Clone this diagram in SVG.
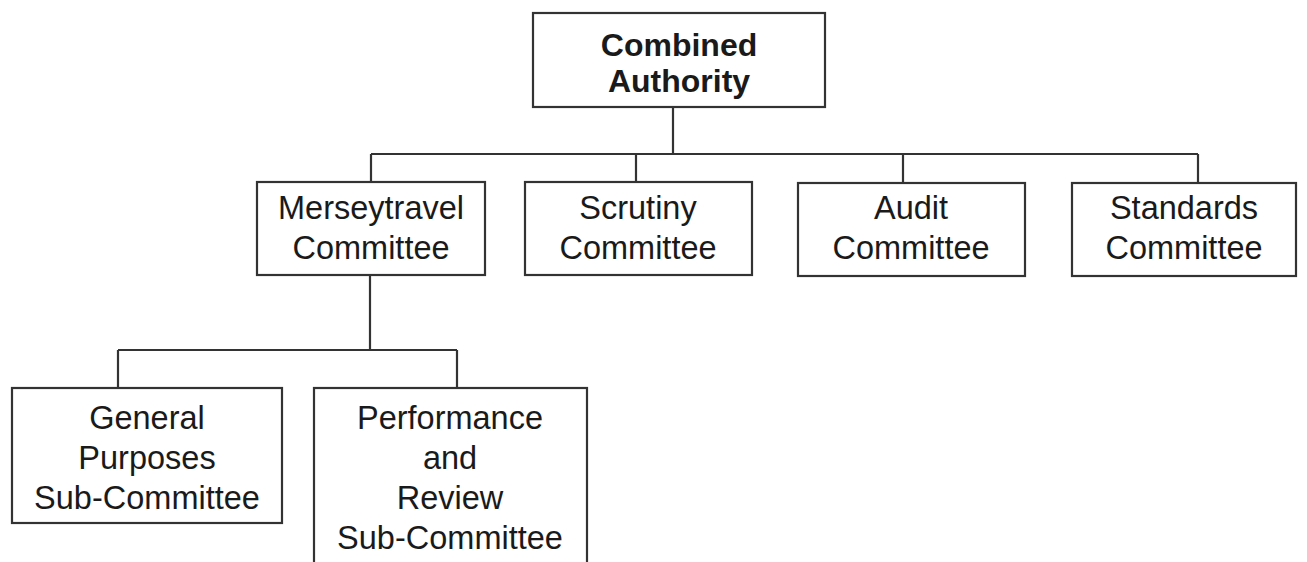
<svg xmlns="http://www.w3.org/2000/svg" width="1307" height="562" viewBox="0 0 1307 562">
<style>
.box{fill:#fff;stroke:#333;stroke-width:2.2}
.con{fill:none;stroke:#333;stroke-width:2.2}
text{font-family:"Liberation Sans",Arial,sans-serif;font-size:32.5px;fill:#1a1a1a;text-anchor:middle}
.b{font-weight:bold;font-size:32px}
</style>
<rect width="1307" height="562" fill="#fff"/>
<g id="connectors">
<path class="con" d="M673 107V154M371 154H1198M371 154V182M636 154V182M903 154V183M1198 154V183"/>
<path class="con" d="M370 275V350M118 350H457M118 350V388M457 350V388"/>
</g>
<g id="combined"><rect class="box" x="533" y="13" width="292" height="94"/><text class="b" x="679" y="56">Combined</text><text class="b" x="679" y="92">Authority</text></g>
<g id="merseytravel"><rect class="box" x="257" y="182" width="228" height="93"/><text x="371" y="219">Merseytravel</text><text x="371" y="259">Committee</text></g>
<g id="scrutiny"><rect class="box" x="525" y="182" width="227" height="93"/><text x="638" y="219">Scrutiny</text><text x="638" y="259">Committee</text></g>
<g id="audit"><rect class="box" x="798" y="183" width="227" height="93"/><text x="911" y="219">Audit</text><text x="911" y="259">Committee</text></g>
<g id="standards"><rect class="box" x="1072" y="183" width="224" height="93"/><text x="1184" y="219">Standards</text><text x="1184" y="259">Committee</text></g>
<g id="general"><rect class="box" x="12" y="388" width="270" height="135"/><text x="147" y="429">General</text><text x="147" y="469">Purposes</text><text x="147" y="509">Sub-Committee</text></g>
<g id="performance"><rect class="box" x="314" y="388" width="273" height="190"/><text x="450" y="429">Performance</text><text x="450" y="469">and</text><text x="450" y="509">Review</text><text x="450" y="549">Sub-Committee</text></g>
</svg>
